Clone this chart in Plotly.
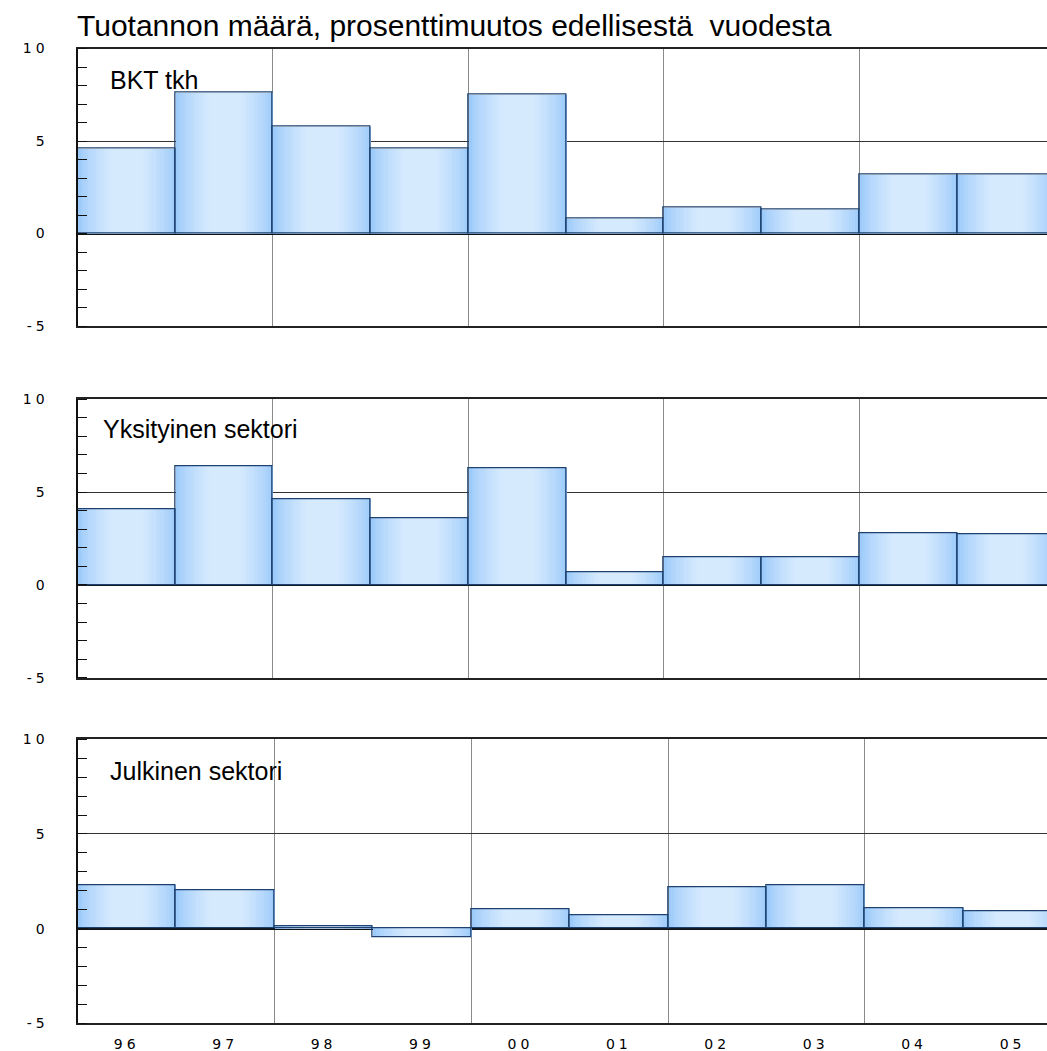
import plotly.graph_objects as go

years = ["96", "97", "98", "99", "00", "01", "02", "03", "04", "05"]
bkt = [4.6, 7.6, 5.8, 4.6, 7.5, 0.8, 1.4, 1.3, 3.2, 3.2]
yksityinen = [4.1, 6.4, 4.6, 3.6, 6.3, 0.7, 1.5, 1.5, 2.8, 2.75]
julkinen = [2.3, 2.0, 0.1, -0.45, 1.0, 0.7, 2.2, 2.3, 1.1, 0.9]

panel_names = ["BKT tkh", "Yksityinen sektori", "Julkinen sektori"]
series = [bkt, yksityinen, julkinen]
title = "Tuotannon määrä, prosenttimuutos edellisestä  vuodesta"
y_ticks = [-5, 0, 5, 10]

W, H = 1047, 1051
panel_px = [(48.5, 326.0), (399.3, 677.7), (739.3, 1023.3)]
x_right = [9.42, 9.42, 9.35]
left_px = 77.5

# gradient layers built from edge colour to centre colour
edge = (156, 202, 250)
centre = (214, 234, 254)
n_layers = 16
layers = []
for k in range(n_layers):
    t = k / (n_layers - 1)
    w = 1.0 - 0.8 * t
    f = min(1.0, (t * 1.2) ** 0.75)
    col = tuple(round(edge[j] + (centre[j] - edge[j]) * f) for j in range(3))
    layers.append((w, "rgb(%d,%d,%d)" % col))


def spaced(t, px=4):
    return '<span style="letter-spacing:%dpx">%s</span>' % (px, t)


fig = go.Figure()
xs = list(range(len(years)))
for i, vals in enumerate(series):
    xa = "x" if i == 0 else f"x{i+1}"
    ya = "y" if i == 0 else f"y{i+1}"
    for w, c in layers:
        fig.add_trace(go.Bar(
            x=xs, y=vals, width=w, marker=dict(color=c, line=dict(width=0)),
            xaxis=xa, yaxis=ya, showlegend=False, hoverinfo="skip",
        ))
    fig.add_trace(go.Bar(
        x=xs, y=vals, width=1.0,
        marker=dict(color="rgba(0,0,0,0)", line=dict(color="#1d4270", width=1.3)),
        xaxis=xa, yaxis=ya, showlegend=False, hoverinfo="skip",
    ))

layout = dict(
    width=W, height=H, margin=dict(l=0, r=0, t=0, b=0),
    paper_bgcolor="white", plot_bgcolor="white",
    barmode="overlay", bargap=0, showlegend=False,
)
tickfont = dict(family="DejaVu Sans", size=14, color="black")
for i in range(3):
    top, bot = panel_px[i]
    sfx = "" if i == 0 else str(i + 1)
    layout["xaxis" + sfx] = dict(
        domain=[left_px / W, 1.0],
        range=[-0.5, x_right[i]],
        anchor="y" + sfx,
        tickmode="array", tickvals=xs,
        ticktext=[spaced(y) for y in years] if i == 2 else [""] * len(years),
        showticklabels=(i == 2), tickfont=tickfont, ticks="",
        showgrid=False, zeroline=False,
        showline=True, mirror=True, linecolor="#222", linewidth=1.5,
        minor=dict(tick0=1.5, dtick=2, showgrid=True, gridcolor="#8a8a8a", gridwidth=1.3, ticks=""),
        fixedrange=True, automargin=False, ticklabelstandoff=7,
    )
    layout["yaxis" + sfx] = dict(
        domain=[1 - bot / H, 1 - top / H],
        range=[-5, 10],
        anchor="x" + sfx,
        tickmode="array", tickvals=y_ticks, ticktext=[spaced(str(v)) for v in y_ticks],
        tickfont=tickfont, ticks="",
        showgrid=True, gridcolor="#333", gridwidth=1,
        zeroline=True, zerolinecolor="#111", zerolinewidth=1.5,
        showline=True, linecolor="#111", linewidth=2,
        minor=dict(dtick=1, ticks="inside", ticklen=9, tickcolor="#111", tickwidth=1),
        fixedrange=True, automargin=False, ticklabelstandoff=24,
    )
layout["annotations"] = [
    dict(text=title, xref="paper", yref="paper", x=75 / W, y=1 - 26 / H,
         xanchor="left", yanchor="middle", showarrow=False,
         font=dict(family="Liberation Sans", size=30, color="black")),
]
label_pos = [(108, 80), (101, 429), (108, 771)]
for name, (px, py) in zip(panel_names, label_pos):
    layout["annotations"].append(dict(
        text=name, xref="paper", yref="paper", x=px / W, y=1 - py / H,
        xanchor="left", yanchor="middle", showarrow=False,
        font=dict(family="Liberation Sans", size=25, color="black")))
fig.update_layout(**layout)
fig.write_html(
    "out.html",
    config={"displayModeBar": False},
    post_script="document.body.style.margin='0';document.body.style.overflow='hidden';",
)
